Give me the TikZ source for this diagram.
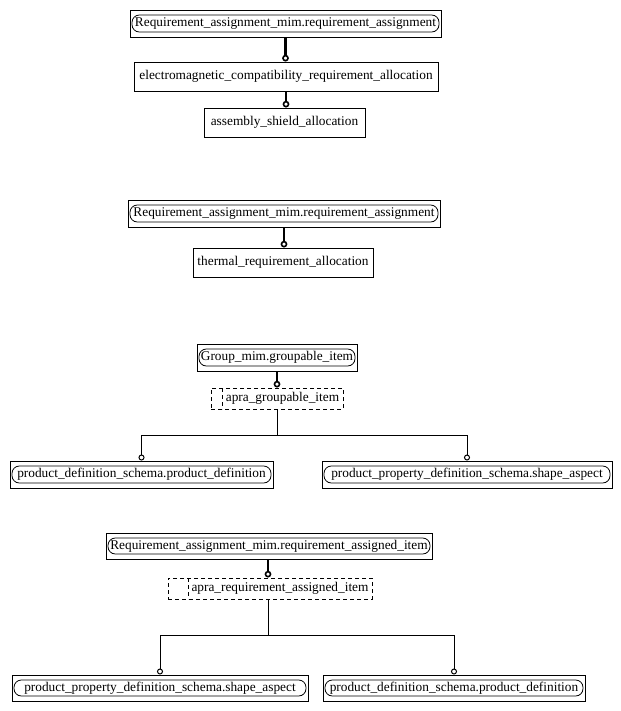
\documentclass[tikz,border=0pt]{standalone}
\usepackage{fontspec}
\setmainfont{Liberation Serif}
\usetikzlibrary{arrows.meta}
\tikzset{
  x=0.75pt, y=-0.75pt,
  outerbox/.style={draw, line width=0.75pt, rectangle, inner sep=0pt},
  innerbox/.style={draw, line width=0.6pt, rectangle, rounded corners=5.5pt, inner sep=0pt, font=\fontsize{10}{12}\selectfont},
  plainbox/.style={draw, line width=0.75pt, rectangle, inner sep=0pt, font=\fontsize{10}{12}\selectfont},
  dashbox/.style={draw, line width=0.75pt, dash pattern=on 3pt off 2.25pt, rectangle, inner sep=0pt},
  txt/.style={inner sep=0pt, font=\fontsize{10}{12}\selectfont},
  thickconn/.style={line width=1.6pt, -{Circle[open, length=5pt, width=5pt, line width=1.2pt]}},
  thinconn/.style={line width=0.75pt, -{Circle[open, length=4.5pt, width=4.5pt]}},
}
\newcommand\ent[6]{%
  \node[outerbox, minimum width={(#4-#2)*0.75pt}, minimum height={(#5-#3)*0.75pt}] (#1) at ({(#2+#4)/2},{(#3+#5)/2}) {};
  \node[innerbox, minimum width={(#4-#2-4)*0.75pt}, minimum height={(#5-#3-10)*0.75pt}] (#1-in) at (#1.center) {#6};
}
\newcommand\plain[6]{%
  \node[plainbox, minimum width={(#4-#2)*0.75pt}, minimum height={(#5-#3)*0.75pt}] (#1) at ({(#2+#4)/2},{(#3+#5)/2}) {#6};
}
\newcommand\dbox[7]{%
  \node[dashbox, minimum width={(#4-#2)*0.75pt}, minimum height={(#5-#3)*0.75pt}] (#1) at ({(#2+#4)/2},{(#3+#5)/2}) {};
  \coordinate (#1-lt) at (#6,#3);
  \coordinate (#1-lb) at (#6,#5);
  \draw[line width=0.75pt, dash pattern=on 3pt off 2.25pt] (#1-lt) -- (#1-lb);
  \node[txt] (#1-t) at ({(#6+#4)/2},{(#3+#5)/2}) {#7};
}
\begin{document}
\begin{tikzpicture}
\useasboundingbox[fill=white] (0,0) rectangle (621,711);
% Section 1
\ent{A1}{130}{10}{441}{37}{Requirement\_assignment\_mim.requirement\_assignment}
\plain{B1}{134}{62}{438}{91}{electromagnetic\_compatibility\_requirement\_allocation}
\plain{C1}{204}{108}{365}{137}{assembly\_shield\_allocation}
\draw[thickconn] (A1.south) -- (A1.south |- B1.north);
\draw[thickconn] (B1.south) -- (B1.south |- C1.north);
% Section 2
\ent{A2}{128}{200}{440}{227}{Requirement\_assignment\_mim.requirement\_assignment}
\plain{B2}{193}{248}{373}{277}{thermal\_requirement\_allocation}
\draw[thickconn] (A2.south) -- (A2.south |- B2.north);
% Section 3
\ent{A3}{197}{344}{357}{371}{Group\_mim.groupable\_item}
\dbox{D3}{211}{388}{343}{409}{222}{apra\_groupable\_item}
\ent{L3}{10}{461}{273}{488}{product\_definition\_schema.product\_definition}
\ent{R3}{322}{461}{612}{488}{product\_property\_definition\_schema.shape\_aspect}
\draw[thickconn] (A3.south) -- (A3.south |- D3.north);
\coordinate (J3) at (277,435);
\draw[line width=0.75pt] (D3.south) -- (D3.south |- J3);
\draw[thinconn] (D3.south |- J3) -| (L3.north);
\draw[thinconn] (D3.south |- J3) -| (R3.north);
% Section 4
\ent{A4}{106}{533}{432}{559}{Requirement\_assignment\_mim.requirement\_assigned\_item}
\dbox{D4}{168}{578}{372}{599}{188}{apra\_requirement\_assigned\_item}
\ent{L4}{12}{675}{308}{701}{product\_property\_definition\_schema.shape\_aspect}
\ent{R4}{323}{675}{585}{701}{product\_definition\_schema.product\_definition}
\coordinate (S4) at (268,599);
\coordinate (J4) at (268,635);
\draw[thickconn] (A4.south -| S4) -- (S4 |- D4.north);
\draw[line width=0.75pt] (S4) -- (J4);
\draw[thinconn] (J4) -| (L4.north);
\draw[thinconn] (J4) -| (R4.north);
\end{tikzpicture}
\end{document}
